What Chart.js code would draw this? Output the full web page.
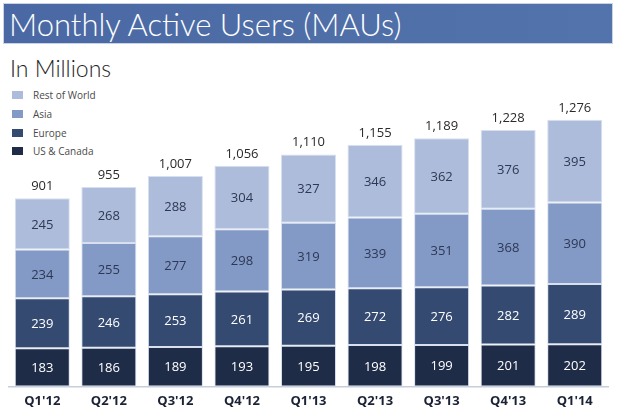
<!DOCTYPE html>
<html>
<head>
<meta charset="utf-8">
<script src="https://cdn.jsdelivr.net/npm/chart.js@4.4.1/dist/chart.umd.min.js"></script>
<style>
    html, body { margin: 0; padding: 0; background: #fff; }
    body { width: 617px; height: 419px; position: relative; overflow: hidden; font-family: Lato, "Open Sans", sans-serif; }
    .banner {
        position: absolute; left: 3px; top: 3px; width: 610px; height: 41px;
        background: linear-gradient(90deg, #4a69a4, #5373ac);
        border: 1px solid #c9d3e6; box-sizing: border-box;
    }
    .banner h1 {
        margin: 0; position: absolute; left: 5px; top: 1px;
        font-family: Lato, sans-serif; font-weight: 300; font-size: 31px; line-height: 38px;
        color: #fff; letter-spacing: 0;
    }
    .subtitle {
        position: absolute; left: 10px; top: 55px;
        font-family: Lato, sans-serif; font-weight: 300; font-size: 23px; line-height: 26px; color: #1e1e1e;
    }
    .legend { position: absolute; left: 12px; top: 86px; }
    .legend-item { height: 18.7px; display: flex; align-items: center; font-family: "Open Sans", sans-serif; font-size: 10px; color: #4a4a4a; }
    .legend-item span { width: 11px; height: 8px; display: inline-block; margin-right: 10px; }
    .chart-box { position: absolute; left: 0; top: 50px; width: 617px; height: 369px; }
</style>
</head>
<body>
<div class="banner"><h1>Monthly Active Users (MAUs)</h1></div>
<div class="subtitle">In Millions</div>
<div class="legend" id="customLegend"></div>
<div class="chart-box"><canvas id="mauChart"></canvas></div>

<script>
// ข้อมูลไตรมาส (แกน X)
const quarters = ["Q1'12", "Q2'12", "Q3'12", "Q4'12", "Q1'13", "Q2'13", "Q3'13", "Q4'13", "Q1'14"];

// ผู้ใช้รายเดือนแยกตามภูมิภาค (ล้านคน)
const usCanada    = [183, 186, 189, 193, 195, 198, 199, 201, 202];
const europe      = [239, 246, 253, 261, 269, 272, 276, 282, 289];
const asia        = [234, 255, 277, 298, 319, 339, 351, 368, 390];
const restOfWorld = [245, 268, 288, 304, 327, 346, 362, 376, 395];

// ยอดรวมที่แสดงบนหัวแท่ง
const totals = [901, 955, 1007, 1056, 1110, 1155, 1189, 1228, 1276];

// สีของแต่ละภูมิภาค
const regionColors = {
    "US & Canada": "#1f2c47",
    "Europe": "#344a71",
    "Asia": "#8399c6",
    "Rest of World": "#aebcdb"
};

// สีตัวเลขในแท่ง (เข้มบนพื้นอ่อน / ขาวบนพื้นเข้ม)
const labelColors = {
    "US & Canada": "#ffffff",
    "Europe": "#ffffff",
    "Asia": "#2d3853",
    "Rest of World": "#2d3853"
};

function makeDataset(label, data) {
    return {
        label: label,
        data: data,
        backgroundColor: regionColors[label],
        borderColor: "rgba(214, 222, 238, 0.95)",
        borderWidth: 1,
        borderSkipped: false,
        categoryPercentage: 1.0,
        barPercentage: 0.827
    };
}

// plugin วาดตัวเลขในแต่ละช่อง และยอดรวมบนหัวแท่ง
const valueLabels = {
    id: 'valueLabels',
    afterDatasetsDraw(chart) {
        const ctx = chart.ctx;
        ctx.save();
        ctx.textAlign = 'center';
        ctx.textBaseline = 'middle';
        ctx.font = '13px "Open Sans", sans-serif';

        chart.data.datasets.forEach((dataset, i) => {
            const meta = chart.getDatasetMeta(i);
            ctx.fillStyle = labelColors[dataset.label];
            meta.data.forEach((bar, j) => {
                const midY = (bar.y + bar.base) / 2;
                ctx.fillText(dataset.data[j], bar.x, midY + 1);
            });
        });

        // ยอดรวม
        const topMeta = chart.getDatasetMeta(chart.data.datasets.length - 1);
        ctx.fillStyle = '#2a2a2a';
        topMeta.data.forEach((bar, j) => {
            ctx.fillText(totals[j].toLocaleString('en-US'), bar.x, bar.y - 12);
        });
        ctx.restore();
    }
};

const ctx = document.getElementById('mauChart').getContext('2d');
const mauChart = new Chart(ctx, {
    type: 'bar',
    data: {
        labels: quarters,
        datasets: [
            makeDataset("US & Canada", usCanada),
            makeDataset("Europe", europe),
            makeDataset("Asia", asia),
            makeDataset("Rest of World", restOfWorld)
        ]
    },
    options: {
        responsive: true,
        maintainAspectRatio: false,
        animation: false,
        layout: { padding: { top: 46, left: 9, right: 9, bottom: 0 } },
        plugins: {
            legend: { display: false },
            tooltip: { enabled: false }
        },
        scales: {
            x: {
                stacked: true,
                grid: { display: false, drawTicks: false },
                border: { display: true, color: '#c6cddd', width: 1.5 },
                ticks: {
                    color: '#1b2236',
                    padding: 7,
                    font: { family: '"Open Sans", sans-serif', size: 13, weight: 'bold' }
                },
                afterFit: function(scale) { scale.height = 32.5; }
            },
            y: {
                stacked: true,
                display: false,
                min: 0,
                max: 1390
            }
        }
    },
    plugins: [valueLabels]
});

// สร้าง legend เอง (เรียงจากบนลงล่าง)
function generateCustomLegend(chart) {
    const legendContainer = document.getElementById('customLegend');
    legendContainer.innerHTML = '';
    const items = chart.data.datasets.slice().reverse();
    items.forEach(dataset => {
        const row = document.createElement('div');
        row.className = 'legend-item';
        const swatch = document.createElement('span');
        swatch.style.backgroundColor = dataset.backgroundColor;
        row.appendChild(swatch);
        row.appendChild(document.createTextNode(dataset.label));
        legendContainer.appendChild(row);
    });
}

generateCustomLegend(mauChart);
</script>
</body>
</html>
